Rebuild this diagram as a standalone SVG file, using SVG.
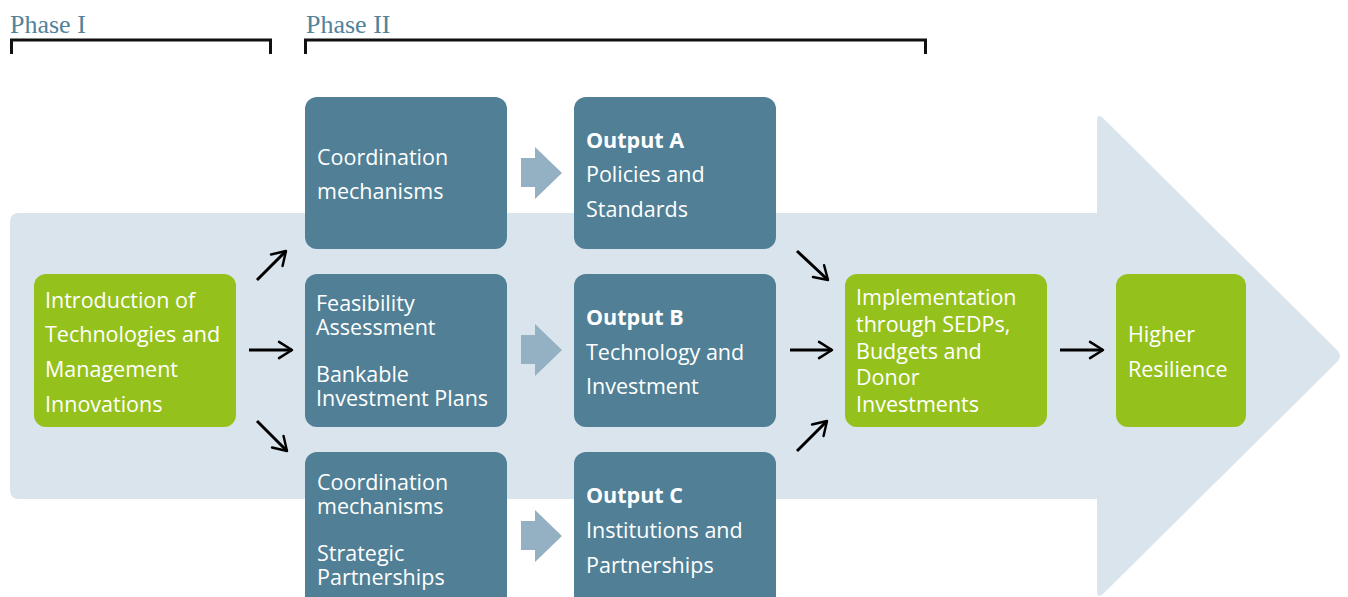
<svg xmlns="http://www.w3.org/2000/svg" width="1348" height="597" viewBox="0 0 1348 597">
  <defs>
    <style>
      .phase { font-family: "Liberation Serif", "DejaVu Serif", serif; font-size: 26px; fill: #51829a; }
      .bracket { fill: none; stroke: #111; stroke-width: 3; }
      .teal { fill: #507f96; }
      .green { fill: #95c11c; }
      .lbl { font-family: "Open Sans", "Noto Sans", sans-serif; font-size: 21.5px; fill: #ffffff; }
      .bold { font-weight: bold; }
      .blk { fill: #93b1c3; }
      .conn { fill: none; stroke: #000; stroke-width: 3; marker-end: url(#chev); }
    </style>
    <marker id="chev" viewBox="0 0 12 12" refX="10" refY="6" markerWidth="6.5" markerHeight="6.5" orient="auto" markerUnits="strokeWidth">
      <path d="M2,1 L10,6 L2,11" fill="none" stroke="#000" stroke-width="1.5" stroke-linecap="round" stroke-linejoin="round"/>
    </marker>
  </defs>

  <!-- large background arrow -->
  <path d="M10,222 Q10,213 19,213 L1097,213 L1097,122 Q1097,112 1104,119 L1337,350 Q1343,356 1337,362 L1104,593 Q1097,600 1097,590 L1097,499 L19,499 Q10,499 10,490 Z" fill="#dae4ec"/>

  <!-- phase headings -->
  <g id="phase1">
    <text class="phase" x="10" y="33">Phase I</text>
    <path class="bracket" d="M11.5,54 L11.5,40 L270.5,40 L270.5,54"/>
  </g>
  <g id="phase2">
    <text class="phase" x="306" y="33">Phase II</text>
    <path class="bracket" d="M305.5,54 L305.5,40 L925.5,40 L925.5,54"/>
  </g>

  <g id="intro">
    <rect class="green" x="34" y="274" width="202" height="153" rx="12"/>
    <text class="lbl" x="45" y="308">Introduction of</text>
    <text class="lbl" x="45" y="342">Technologies and</text>
    <text class="lbl" x="45" y="377">Management</text>
    <text class="lbl" x="45" y="412">Innovations</text>
  </g>

  <g id="coord1">
    <rect class="teal" x="305" y="97" width="202" height="152" rx="12"/>
    <text class="lbl" x="317" y="165">Coordination</text>
    <text class="lbl" x="317" y="199">mechanisms</text>
  </g>

  <g id="feasibility">
    <rect class="teal" x="305" y="274" width="202" height="153" rx="12"/>
    <text class="lbl" x="316" y="311">Feasibility</text>
    <text class="lbl" x="316" y="335">Assessment</text>
    <text class="lbl" x="316" y="382">Bankable</text>
    <text class="lbl" x="316" y="406">Investment Plans</text>
  </g>

  <g id="coord2">
    <rect class="teal" x="305" y="452" width="202" height="160" rx="12"/>
    <text class="lbl" x="317" y="490">Coordination</text>
    <text class="lbl" x="317" y="514">mechanisms</text>
    <text class="lbl" x="317" y="561">Strategic</text>
    <text class="lbl" x="317" y="585">Partnerships</text>
  </g>

  <g id="outputA">
    <rect class="teal" x="574" y="97" width="202" height="152" rx="12"/>
    <text class="lbl bold" x="586" y="148">Output A</text>
    <text class="lbl" x="586" y="182">Policies and</text>
    <text class="lbl" x="586" y="217">Standards</text>
  </g>

  <g id="outputB">
    <rect class="teal" x="574" y="274" width="202" height="153" rx="12"/>
    <text class="lbl bold" x="586" y="325">Output B</text>
    <text class="lbl" x="586" y="360">Technology and</text>
    <text class="lbl" x="586" y="394">Investment</text>
  </g>

  <g id="outputC">
    <rect class="teal" x="574" y="452" width="202" height="160" rx="12"/>
    <text class="lbl bold" x="586" y="503">Output C</text>
    <text class="lbl" x="586" y="538">Institutions and</text>
    <text class="lbl" x="586" y="573">Partnerships</text>
  </g>

  <g id="implementation">
    <rect class="green" x="845" y="274" width="202" height="153" rx="12"/>
    <text class="lbl" x="856" y="305">Implementation</text>
    <text class="lbl" x="856" y="332">through SEDPs,</text>
    <text class="lbl" x="856" y="359">Budgets and</text>
    <text class="lbl" x="856" y="385">Donor</text>
    <text class="lbl" x="856" y="412">Investments</text>
  </g>

  <g id="resilience">
    <rect class="green" x="1116" y="274" width="130" height="153" rx="12"/>
    <text class="lbl" x="1128" y="342">Higher</text>
    <text class="lbl" x="1128" y="377">Resilience</text>
  </g>

  <!-- connectors -->
  <g id="connectors">
    <path class="blk" d="M521,158 L535,158 L535,147 L562,173 L535,199 L535,187 L521,187 Z"/>
    <path class="blk" d="M521,335 L535,335 L535,324 L562,350 L535,376 L535,364 L521,364 Z"/>
    <path class="blk" d="M521,521 L535,521 L535,510 L562,536 L535,562 L535,550 L521,550 Z"/>

    <line class="conn" x1="257" y1="280" x2="286" y2="251"/>
    <line class="conn" x1="249" y1="350" x2="292" y2="350"/>
    <line class="conn" x1="257" y1="421" x2="287" y2="451"/>

    <line class="conn" x1="797" y1="251" x2="828" y2="280"/>
    <line class="conn" x1="790" y1="350" x2="832" y2="350"/>
    <line class="conn" x1="797" y1="451" x2="827" y2="421"/>

    <line class="conn" x1="1060" y1="350" x2="1103" y2="350"/>
  </g>
</svg>
